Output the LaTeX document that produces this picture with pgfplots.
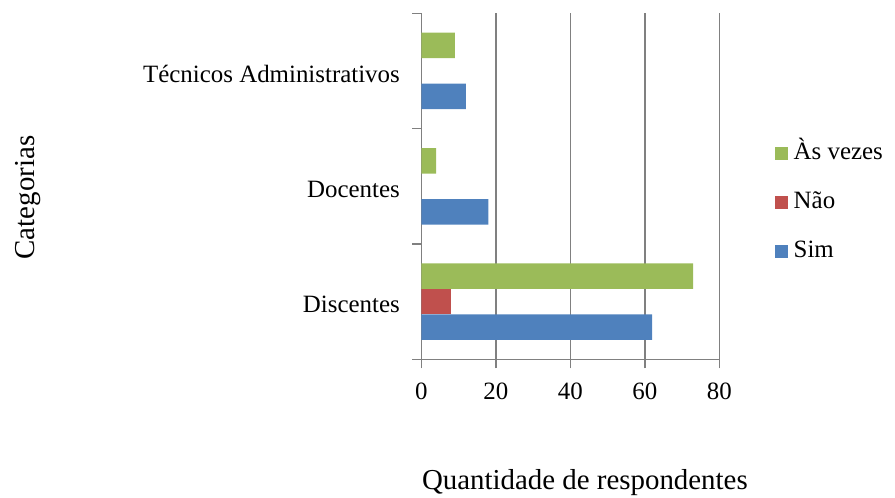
\documentclass[border=0pt]{standalone}
\usepackage{pgfplots}
\pgfplotsset{compat=1.18}
\usepackage{fontspec}
\setmainfont{Liberation Serif}
\definecolor{cSim}{HTML}{4F81BD}
\definecolor{cNao}{HTML}{C0504D}
\definecolor{cAs}{HTML}{9BBB59}
\definecolor{gridc}{HTML}{808080}
\begin{document}
\begin{tikzpicture}
\path[use as bounding box] (0bp,0bp) rectangle (895bp,498bp);
\begin{axis}[
  at={(421.3bp,138.7bp)}, anchor=south west,
  scale only axis, width=298bp, height=346bp,
  xbar, bar width=25.5bp,
  xmin=0, xmax=80, ymin=-0.5, ymax=2.5,
  xtick={0,20,40,60,80},
  ytick={-0.5,0.5,1.5,2.5}, yticklabels={,,,},
  extra y ticks={0,1,2},
  extra y tick labels={Discentes,Docentes,{Técnicos Administrativos}},
  extra y tick style={major tick length=0pt, tick style={draw=none},
     yticklabel style={xshift=-18bp, yshift=-3bp}},
  axis x line*=bottom, axis y line*=left,
  axis line style={gridc, line width=1.5bp, -},
  xmajorgrids, grid style={gridc, line width=1.5bp},
  tick align=outside, major tick length=9bp,
  tick style={gridc, line width=1.5bp},
  /pgf/number format/assume math mode=true,
  tick label style={font=\fontsize{25}{30}\selectfont},
  xticklabel style={yshift=-11bp},
  xlabel={Quantidade de respondentes},
  xlabel style={at={(axis description cs:0.549,-0.356)}, anchor=center,
     font=\fontsize{29}{34}\selectfont},
  ylabel={Categorias},
  ylabel style={at={(axis description cs:-1.321,0.4676)}, anchor=center,
     font=\fontsize{29}{34}\selectfont},
  reverse legend,
  legend image code/.code={\fill[#1,draw=none] (0bp,-6.5bp) rectangle (13bp,6.5bp); \path (16bp,0bp);},
  legend style={at={(axis description cs:1.187,0.452)}, anchor=west,
     draw=none, fill=none, inner sep=0pt, row sep=21bp,
     font=\fontsize{25}{30}\selectfont,
     nodes={inner sep=2.5bp, text height=17bp, text depth=6bp}},
  legend cell align=left,
]
\addplot[fill=cSim, draw=none, bar shift=-25.5bp] coordinates {(62,0) (18,1) (12,2)};
\addplot[fill=cNao, draw=none, bar shift=0bp] coordinates {(8,0)};
\addplot[fill=cAs, draw=none, bar shift=25.5bp] coordinates {(73,0) (4,1) (9,2)};
\legend{Sim,Não,Às vezes}
\end{axis}
\end{tikzpicture}
\end{document}
